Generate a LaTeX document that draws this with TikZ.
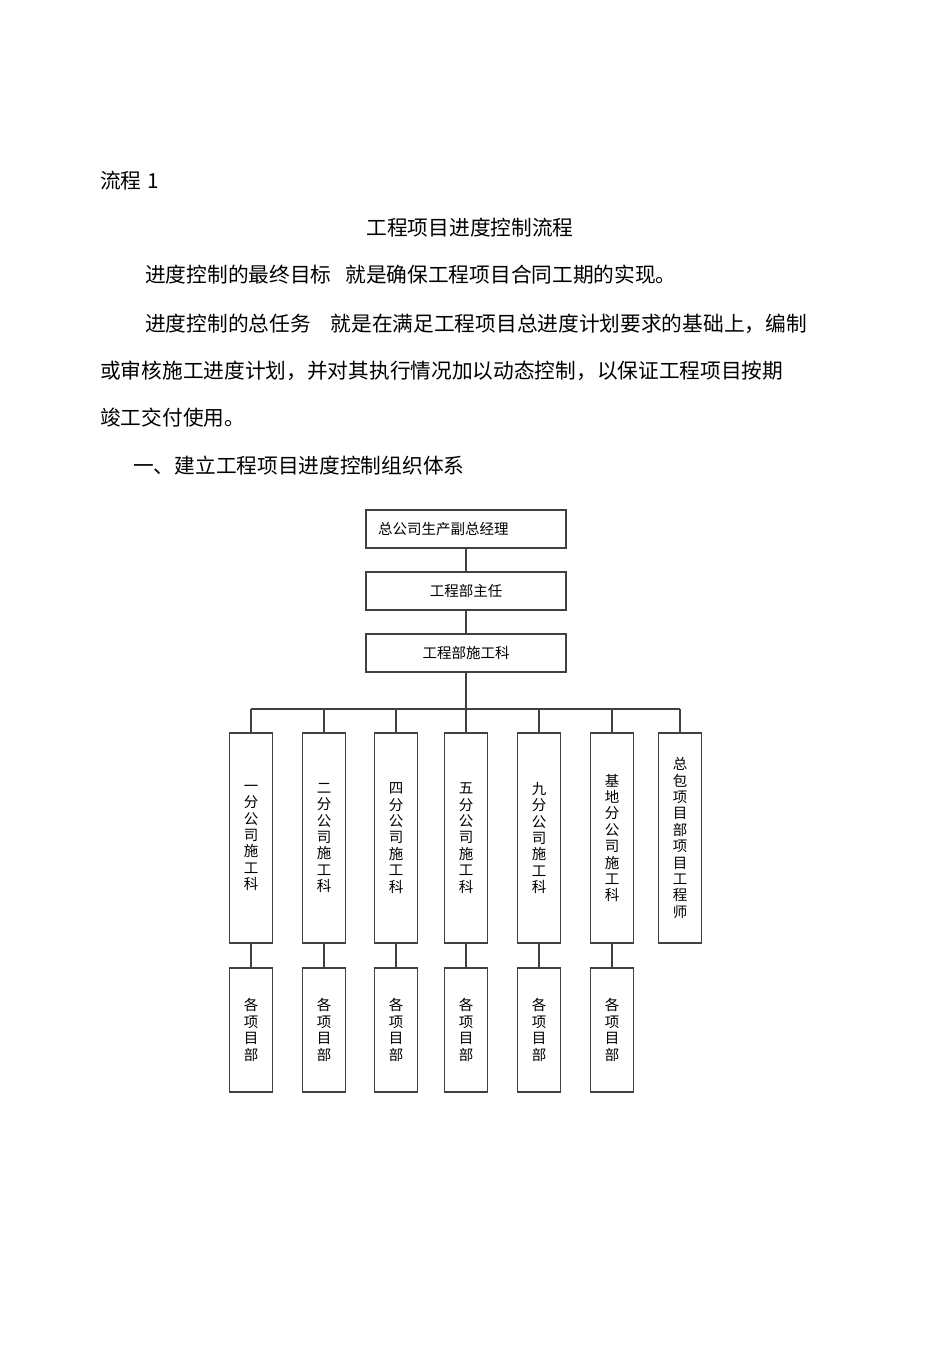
\documentclass[tikz,border=0pt]{standalone}
\usepackage{fontspec}
\setmainfont{Noto Sans CJK SC}
\usepackage{tikz}

\begin{document}
\begin{tikzpicture}[x=1pt,y=-1pt,
  body/.style={anchor=west,inner sep=0pt,font=\fontsize{20.7}{24}\selectfont},
  hbox/.style={draw=black!75,line width=1.3pt,minimum width=200pt,minimum height=38pt,inner sep=0pt,font=\fontsize{14.5}{17}\selectfont},
  vbox/.style={draw=black!75,line width=1.3pt,minimum width=43pt,minimum height=210pt,inner sep=0pt,align=center,font=\fontsize{14.5}{16.4}\selectfont},
  pbox/.style={vbox,minimum height=124pt},
  link/.style={black!75,line width=1.5pt}]
  \fill[white] (0,0) rectangle (950,1346);
  \useasboundingbox (0,0) rectangle (950,1346);

  \draw (100,181) node (h0) [body] {流程\hspace{6pt}1};
  \draw (470,228) node (h1) [body,anchor=center] {工程项目进度控制流程};
  \draw (145,275) node (p1) [body] {进度控制的最终目标\hspace{14pt}就是确保工程项目合同工期的实现。};
  \draw (145,324) node (p2) [body] {进度控制的总任务\hspace{20pt}就是在满足工程项目总进度计划要求的基础上，编制};
  \draw (100,371) node (p3) [body] {或审核施工进度计划，并对其执行情况加以动态控制，以保证工程项目按期};
  \draw (100,418) node (p4) [body] {竣工交付使用。};
  \draw (133,466) node (s1) [body] {一、建立工程项目进度控制组织体系};

  \draw (466,529) node (a) [hbox,text width=176pt,align=left] {总公司生产副总经理};
  \draw (466,591) node (b) [hbox] {工程部主任};
  \draw (466,653) node (c) [hbox] {工程部施工科};
  \draw[link] (a) -- (b);
  \draw[link] (b) -- (c);
  \coordinate (bus) at (466,709);
  \draw[link] (c) -- (bus);

  \draw (251,838) node (k1) [vbox] {一\\分\\公\\司\\施\\工\\科};
  \draw (324,838) node (k2) [vbox] {二\\分\\公\\司\\施\\工\\科};
  \draw (396,838) node (k3) [vbox] {四\\分\\公\\司\\施\\工\\科};
  \draw (466,838) node (k4) [vbox] {五\\分\\公\\司\\施\\工\\科};
  \draw (539,838) node (k5) [vbox] {九\\分\\公\\司\\施\\工\\科};
  \draw (612,838) node (k6) [vbox] {基\\地\\分\\公\\司\\施\\工\\科};
  \draw (680,838) node (k7) [vbox] {总\\包\\项\\目\\部\\项\\目\\工\\程\\师};
  \draw[link] (k1.north |- bus) -- (k7.north |- bus);
  \draw[link] (k1.north |- bus) -- (k1.north);
  \draw[link] (k2.north |- bus) -- (k2.north);
  \draw[link] (k3.north |- bus) -- (k3.north);
  \draw[link] (k4.north |- bus) -- (k4.north);
  \draw[link] (k5.north |- bus) -- (k5.north);
  \draw[link] (k6.north |- bus) -- (k6.north);
  \draw[link] (k7.north |- bus) -- (k7.north);

  \draw (251,1030) node (d1) [pbox] {各\\项\\目\\部};
  \draw (324,1030) node (d2) [pbox] {各\\项\\目\\部};
  \draw (396,1030) node (d3) [pbox] {各\\项\\目\\部};
  \draw (466,1030) node (d4) [pbox] {各\\项\\目\\部};
  \draw (539,1030) node (d5) [pbox] {各\\项\\目\\部};
  \draw (612,1030) node (d6) [pbox] {各\\项\\目\\部};
  \draw[link] (k1) -- (d1);
  \draw[link] (k2) -- (d2);
  \draw[link] (k3) -- (d3);
  \draw[link] (k4) -- (d4);
  \draw[link] (k5) -- (d5);
  \draw[link] (k6) -- (d6);
\end{tikzpicture}
\end{document}
